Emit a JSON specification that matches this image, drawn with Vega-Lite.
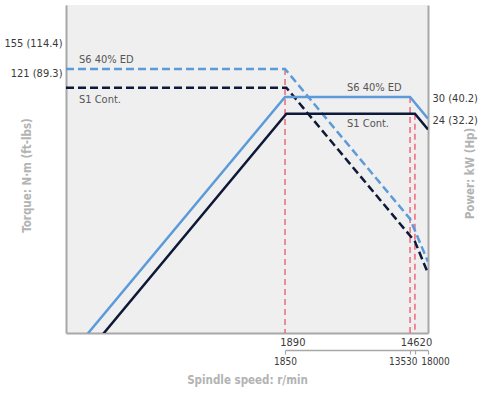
{
  "$schema": "https://vega.github.io/schema/vega-lite/v6.json",
  "width": 362,
  "height": 328,
  "autosize": {"type": "none"},
  "padding": {"left": 66, "top": 5, "right": 66, "bottom": 61},
  "background": "white",
  "config": {
    "view": {"fill": "#efefef", "stroke": null},
    "font": "DejaVu Sans Condensed",
    "axis": {
      "domainColor": "#a8a8a8",
      "domainWidth": 2,
      "grid": false,
      "labelFont": "DejaVu Sans Condensed",
      "titleFont": "DejaVu Sans Condensed",
      "labelFontSize": 11,
      "labelColor": "#3a3a3a",
      "titleColor": "#b3b3b3",
      "titleFontSize": 11.5,
      "titleFontWeight": "bold"
    },
    "text": {"font": "DejaVu Sans Condensed", "fontSize": 11, "fill": "#555555"}
  },
  "datasets": {
    "torque": [
      {"series": "S6 40% ED", "speed": 56.7, "torque": 155},
      {"series": "S6 40% ED", "speed": 1850, "torque": 155},
      {"series": "S6 40% ED", "speed": 13530, "torque": 21.2},
      {"series": "S6 40% ED", "speed": 18000, "torque": 12.0},
      {"series": "S1 Cont.", "speed": 56.7, "torque": 121},
      {"series": "S1 Cont.", "speed": 1890, "torque": 121},
      {"series": "S1 Cont.", "speed": 14620, "torque": 15.7},
      {"series": "S1 Cont.", "speed": 18000, "torque": 10.3}
    ],
    "power": [
      {"series": "S6 40% ED", "speed": 50, "power": 0.81},
      {"series": "S6 40% ED", "speed": 1850, "power": 30},
      {"series": "S6 40% ED", "speed": 13530, "power": 30},
      {"series": "S6 40% ED", "speed": 18000, "power": 22.5},
      {"series": "S1 Cont.", "speed": 50, "power": 0.63},
      {"series": "S1 Cont.", "speed": 1890, "power": 24},
      {"series": "S1 Cont.", "speed": 14620, "power": 24},
      {"series": "S1 Cont.", "speed": 18000, "power": 19.5}
    ],
    "torqueLimits": [
      {"speed": 1850, "torque": 155}
    ],
    "powerLimits": [
      {"speed": 13530, "power": 30},
      {"speed": 14620, "power": 24}
    ],
    "torqueNotes": [
      {"series": "S6 40% ED", "speed": 69.7, "torque": 155},
      {"series": "S1 Cont.", "speed": 69.7, "torque": 121}
    ],
    "powerNotes": [
      {"series": "S6 40% ED", "speed": 4960, "power": 30},
      {"series": "S1 Cont.", "speed": 4960, "power": 24}
    ]
  },
  "layer": [
    {
      "data": {"name": "torqueLimits"},
      "mark": {"type": "rule", "color": "#ee6a7c", "strokeWidth": 1.5, "strokeDash": [6, 4]},
      "encoding": {
        "x": {"field": "speed", "type": "quantitative", "scale": {"type": "log", "domain": [56.7, 18000], "nice": false},
          "axis": {
            "orient": "bottom",
            "title": null,
            "values": [1890, 14620],
            "format": "d",
            "ticks": false,
            "labelPadding": 3,
            "labelOffset": {"condition": {"test": "datum.value == 1890", "value": 6}, "value": 1}
          }
        },
        "y": {"field": "torque", "type": "quantitative", "scale": {"type": "log", "domain": [4.664, 362.4], "nice": false, "zero": false},
          "axis": {
            "title": "Torque: N·m (ft-lbs)",
            "values": [155, 121],
            "labelExpr": "datum.value == 155 ? '155 (114.4)' : '121 (89.3)'",
            "ticks": false,
            "labelOffset": {"condition": {"test": "datum.value == 155", "value": -25}, "value": -14},
            "labelPadding": 4,
            "titleX": -34,
            "titleY": 170
          }
        },
        "y2": {"value": "height"}
      }
    },
    {
      "data": {"name": "powerLimits"},
      "mark": {"type": "rule", "color": "#ee6a7c", "strokeWidth": 1.5, "strokeDash": [6, 4]},
      "encoding": {
        "x": {"field": "speed", "type": "quantitative", "scale": {"type": "log", "domain": [56.7, 18000], "nice": false},
          "axis": {
            "orient": "bottom",
            "title": "Spindle speed: r/min",
            "values": [1850, 13530, 14620, 18000],
            "format": "d",
            "labelExpr": "datum.value == 14620 ? '' : datum.label",
            "offset": 17,
            "domainDash": [0, 219, 143, 0],
            "domainWidth": 1.5,
            "ticks": true,
            "tickSize": 4,
            "tickWidth": 1.2,
            "tickColor": "#a8a8a8",
            "labelFontSize": 10,
            "labelPadding": 2,
            "labelOverlap": false,
            "labelAlign": {"condition": {"test": "datum.value == 13530", "value": "right"}, "value": "center"},
            "labelOffset": {"condition": {"test": "datum.value > 10000", "value": 7}, "value": 0},
            "titlePadding": 8
          }
        },
        "y": {"field": "power", "type": "quantitative", "scale": {"type": "log", "domain": [1.309, 101.7], "nice": false, "zero": false},
          "axis": {
            "orient": "right",
            "title": "Power: kW (Hp)",
            "values": [30, 24],
            "labelExpr": "datum.value == 30 ? '30 (40.2)' : '24 (32.2)'",
            "ticks": false,
            "labelOffset": {"condition": {"test": "datum.value == 30", "value": 2}, "value": 7},
            "labelPadding": 4,
            "titleAngle": 270,
            "titleBaseline": "bottom",
            "titleX": 47,
            "titleY": 168
          }
        },
        "y2": {"value": "height"}
      }
    },
    {
      "data": {"name": "torque"},
      "mark": {"type": "line", "strokeWidth": 2.5, "strokeDash": [8, 4], "clip": true},
      "encoding": {
        "x": {"field": "speed", "type": "quantitative", "scale": {"type": "log", "domain": [56.7, 18000], "nice": false}, "axis": null},
        "y": {"field": "torque", "type": "quantitative", "scale": {"type": "log", "domain": [4.664, 362.4], "nice": false, "zero": false}, "axis": null},
        "color": {"field": "series", "type": "nominal", "scale": {"domain": ["S6 40% ED", "S1 Cont."], "range": ["#5b9bd9", "#0e1838"]}, "legend": null},
        "order": {"field": "speed", "type": "quantitative"}
      }
    },
    {
      "data": {"name": "power"},
      "mark": {"type": "line", "strokeWidth": 2.5, "clip": true},
      "encoding": {
        "x": {"field": "speed", "type": "quantitative", "scale": {"type": "log", "domain": [56.7, 18000], "nice": false}, "axis": null},
        "y": {"field": "power", "type": "quantitative", "scale": {"type": "log", "domain": [1.309, 101.7], "nice": false, "zero": false}, "axis": null},
        "color": {"field": "series", "type": "nominal", "scale": {"domain": ["S6 40% ED", "S1 Cont."], "range": ["#5b9bd9", "#0e1838"]}, "legend": null},
        "order": {"field": "speed", "type": "quantitative"}
      }
    },
    {
      "data": {"name": "torqueNotes"},
      "transform": [{"filter": "datum.series == 'S6 40% ED'"}],
      "mark": {"type": "text", "align": "left", "baseline": "middle", "dy": -9},
      "encoding": {
        "x": {"field": "speed", "type": "quantitative", "scale": {"type": "log", "domain": [56.7, 18000], "nice": false}, "axis": null},
        "y": {"field": "torque", "type": "quantitative", "scale": {"type": "log", "domain": [4.664, 362.4], "nice": false, "zero": false}, "axis": null},
        "text": {"field": "series"}
      }
    },
    {
      "data": {"name": "torqueNotes"},
      "transform": [{"filter": "datum.series == 'S1 Cont.'"}],
      "mark": {"type": "text", "align": "left", "baseline": "middle", "dy": 12},
      "encoding": {
        "x": {"field": "speed", "type": "quantitative", "scale": {"type": "log", "domain": [56.7, 18000], "nice": false}, "axis": null},
        "y": {"field": "torque", "type": "quantitative", "scale": {"type": "log", "domain": [4.664, 362.4], "nice": false, "zero": false}, "axis": null},
        "text": {"field": "series"}
      }
    },
    {
      "data": {"name": "powerNotes"},
      "transform": [{"filter": "datum.series == 'S6 40% ED'"}],
      "mark": {"type": "text", "align": "left", "baseline": "middle", "dy": -8.5},
      "encoding": {
        "x": {"field": "speed", "type": "quantitative", "scale": {"type": "log", "domain": [56.7, 18000], "nice": false}, "axis": null},
        "y": {"field": "power", "type": "quantitative", "scale": {"type": "log", "domain": [1.309, 101.7], "nice": false, "zero": false}, "axis": null},
        "text": {"field": "series"}
      }
    },
    {
      "data": {"name": "powerNotes"},
      "transform": [{"filter": "datum.series == 'S1 Cont.'"}],
      "mark": {"type": "text", "align": "left", "baseline": "middle", "dy": 10},
      "encoding": {
        "x": {"field": "speed", "type": "quantitative", "scale": {"type": "log", "domain": [56.7, 18000], "nice": false}, "axis": null},
        "y": {"field": "power", "type": "quantitative", "scale": {"type": "log", "domain": [1.309, 101.7], "nice": false, "zero": false}, "axis": null},
        "text": {"field": "series"}
      }
    }
  ],
  "resolve": {
    "scale": {"y": "independent"},
    "axis": {"x": "independent", "y": "independent"}
  }
}
